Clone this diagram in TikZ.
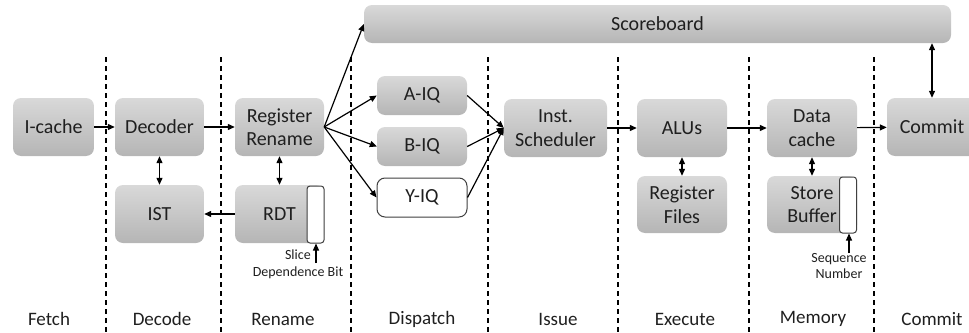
\documentclass[tikz,border=0pt]{standalone}
\usepackage{fontspec}
\setmainfont{Carlito}
\usetikzlibrary{arrows.meta}

\tikzset{
	unit/.style={rounded corners=8pt, top color=black!15, bottom color=black!29, draw=none,
		minimum width=89pt, minimum height=58pt, inner sep=1pt, align=center, text=black!88,
		font=\fontsize{20}{23.5}\selectfont},
	queue/.style={unit, minimum width=90pt, minimum height=39pt},
	slot/.style={rounded corners=3pt, fill=white, draw=black!75, line width=1pt,
		minimum width=17pt, minimum height=57pt, inner sep=0pt},
	note/.style={font=\fontsize{14}{16}\selectfont, text=black!88, inner sep=0pt, align=center},
	phase/.style={font=\fontsize{19}{23}\selectfont, text=black!88, inner sep=0pt},
	flow/.style={line width=1.2pt, -{Triangle[length=7pt,width=6pt]}},
	both/.style={line width=1.2pt, {Triangle[length=7pt,width=6pt]}-{Triangle[length=7pt,width=6pt]}}
}

\begin{document}
\begin{tikzpicture}[x=1pt, y=-1pt]
	\useasboundingbox (0,0) rectangle (969,332);

	% stage dividers
	\foreach \xd in {106,221,351,488,618,749,874}
		\draw [line width=1.5pt, dash pattern=on 5pt off 4pt] (\xd,57) -- (\xd,332);

	% units
	\node [unit, minimum width=587pt, minimum height=38pt] (score) at (657.5,24) {Scoreboard};
	\node [unit, minimum width=81pt] (icache) at (53.5,127) {I-cache};
	\node [unit] (decoder) at (159.5,127) {Decoder};
	\node [unit] (ist) at (159.5,214) {IST};
	\node [unit] (rename) at (279.5,127) {Register\\Rename};
	\node [unit] (rdt) at (279.5,214) {RDT};
	\node [slot] (sdb) at (315.5,214.5) {};
	\node [queue] (aiq) at (422,95.5) {A-IQ};
	\node [queue] (biq) at (422,146.5) {B-IQ};
	\node [queue, top color=white, bottom color=white, draw=black!75, line width=1pt] (yiq) at (422,197.5) {Y-IQ};
	\node [unit, minimum width=103pt] (sched) at (555.5,128) {Inst.\\Scheduler};
	\node [unit, minimum width=90pt] (alus) at (682,128) {ALUs};
	\node [unit, minimum width=90pt, minimum height=57pt] (rfiles) at (682,204.5) {Register\\Files};
	\node [unit, minimum width=90pt] (dcache) at (812,128) {Data\\cache};
	\node [unit, minimum width=90pt, minimum height=57pt] (sbuf) at (812,204.5) {Store\\Buffer};
	\node [slot, minimum height=56pt] (seqslot) at (848,205) {};
	\node [unit, minimum width=90pt] (commit) at (932,127) {Commit};

	% notes under the slots
	\node [note, anchor=east] (slice) at (311,255) {Slice};
	\node [note] (depbit) at (298,273) {Dependence Bit};
	\node [note] (seqno) at (839,266.5) {Sequence\\Number};
	\coordinate (sdbfoot) at (316,263);
	\coordinate (seqfoot) at (849,253);

	% stage names
	\node [phase] (pfetch) at (49,319) {Fetch};
	\node [phase] (pdecode) at (162,319) {Decode};
	\node [phase] (prename) at (283,319) {Rename};
	\node [phase] (pdispatch) at (422,319) {Dispatch};
	\node [phase] (pissue) at (558,319) {Issue};
	\node [phase] (pexecute) at (685,319) {Execute};
	\node [phase] (pmemory) at (813,319) {Memory};
	\node [phase] (pcommit) at (932,319) {Commit};

	% connections
	\draw [flow] (icache) -- (decoder);
	\draw [flow] (decoder) -- (rename);
	\draw [flow] (rename.east) -- (score.west);
	\foreach \q in {aiq,biq,yiq} {
		\draw [flow] (rename.east) -- (\q.west);
		\draw [flow] (\q.east) -- (sched.west);
	}
	\draw [flow] (sched) -- (alus);
	\draw [flow] (alus) -- (dcache);
	\draw [flow] (dcache) -- (commit);
	\draw [flow] (rdt.west) -- (ist.east);
	\draw [both] (decoder) -- (ist);
	\draw [both] (rename) -- (rdt);
	\draw [both] (alus) -- (rfiles);
	\draw [both] (dcache) -- (sbuf);
	\draw [both] (commit.north -| commit.center) -- (commit.center |- score.south);
	\draw [flow] (sdbfoot) -- (sdbfoot |- sdb.south);
	\draw [flow] (seqfoot) -- (seqfoot |- seqslot.south);
\end{tikzpicture}
\end{document}
